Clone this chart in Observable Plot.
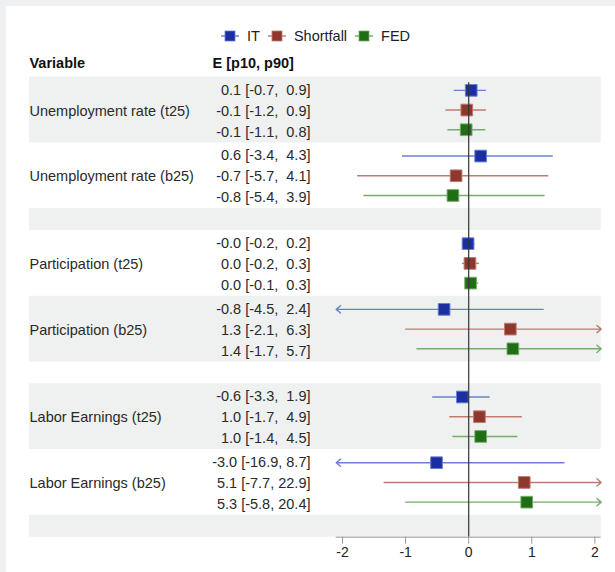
<!DOCTYPE html>
<html>
<head>
<meta charset="utf-8">
<script src="https://cdn.jsdelivr.net/npm/d3@7"></script>
<script src="https://cdn.jsdelivr.net/npm/@observablehq/plot@0.6"></script>
<style>
  body { margin: 0; background: #eff0f2; font-family: "Liberation Sans", Arial, sans-serif; }
  #panel { position: absolute; left: 6px; top: 6px; width: 609px; height: 566px; background: #fff; }
  #legend { height: 36px; padding-top: 12px; display: flex; align-items: center; padding-left: 215px; font-size: 14.5px; color: #222; }
  #legend .item { display: flex; align-items: center; }
  #legend .item span { margin-left: 8px; margin-right: 8px; }
  svg text { white-space: pre; }
</style>
</head>
<body>
<div id="panel">
  <div id="legend"></div>
  <div id="chart"></div>
</div>
<script>
// ---- data ----
const variables = [
  "Unemployment rate (t25)", "Unemployment rate (b25)",
  "Participation (t25)", "Participation (b25)",
  "Labor Earnings (t25)", "Labor Earnings (b25)"
];
const seriesNames = ["IT", "Shortfall", "FED"];
const fillColors = ["#1b2ea2", "#8e372d", "#1f6e14"];
const lineColors = ["#6b7fd4", "#bf7b71", "#76ad6a"];

// plotted (standardized) estimates
const estIT        = [0.04, 0.19, -0.01, -0.39, -0.10, -0.51];
const p10IT        = [-0.23, -1.05, -0.10, -2.20, -0.57, -2.96];
const p90IT        = [0.28, 1.34, 0.10, 1.18, 0.34, 1.51];
const estShortfall = [-0.03, -0.20, 0.02, 0.66, 0.17, 0.88];
const p10Shortfall = [-0.36, -1.76, -0.10, -1.00, -0.30, -1.34];
const p90Shortfall = [0.28, 1.27, 0.17, 3.09, 0.85, 4.02];
const estFED       = [-0.04, -0.25, 0.03, 0.70, 0.19, 0.92];
const p10FED       = [-0.33, -1.66, -0.05, -0.82, -0.25, -1.00];
const p90FED       = [0.27, 1.21, 0.16, 2.79, 0.78, 3.58];

// table text
const labelsIT = ["0.1 [-0.7,  0.9]", "0.6 [-3.4,  4.3]", "-0.0 [-0.2,  0.2]", "-0.8 [-4.5,  2.4]", "-0.6 [-3.3,  1.9]", "-3.0 [-16.9, 8.7]"];
const labelsShortfall = ["-0.1 [-1.2,  0.9]", "-0.7 [-5.7,  4.1]", "0.0 [-0.2,  0.3]", "1.3 [-2.1,  6.3]", "1.0 [-1.7,  4.9]", "5.1 [-7.7, 22.9]"];
const labelsFED = ["-0.1 [-1.1,  0.8]", "-0.8 [-5.4,  3.9]", "0.0 [-0.1,  0.3]", "1.4 [-1.7,  5.7]", "1.0 [-1.4,  4.5]", "5.3 [-5.8, 20.4]"];
const headers = ["Variable", "E [p10, p90]"];
const xTicks = [-2, -1, 0, 1, 2];
const xDomain = [-2.1, 2.1];

// ---- build tables ----
const est = [estIT, estShortfall, estFED];
const p10 = [p10IT, p10Shortfall, p10FED];
const p90 = [p90IT, p90Shortfall, p90FED];
const labels = [labelsIT, labelsShortfall, labelsFED];

const groupCenter = i => 1.5 + 3 * i + Math.floor(i / 2);
const nSlots = 21;
const groups = variables.map((name, i) => ({name, y: groupCenter(i)}));

// alternating bands: each group, plus an empty spacer slot after every pair
const blocks = [];
variables.forEach((v, i) => {
  const c = groupCenter(i);
  blocks.push({y1: c - 1.5, y2: c + 1.5});
  if (i % 2 === 1) blocks.push({y1: c + 1.5, y2: c + 2.5});
});
const bands = blocks.filter((b, i) => i % 2 === 0);

const rows = [];
seriesNames.forEach((s, si) => {
  variables.forEach((v, i) => {
    const c = groupCenter(i);
    rows.push({
      series: si, est: est[si][i], lo: p10[si][i], hi: p90[si][i],
      label: labels[si][i], y: c + (si - 1) * 0.9, ty: c + (si - 1) * 0.96
    });
  });
});

// ---- legend ----
const legend = document.getElementById("legend");
seriesNames.forEach((s, si) => {
  const item = document.createElement("div");
  item.className = "item";
  item.innerHTML = `<svg width="18" height="12"><line x1="0" x2="18" y1="6" y2="6" stroke="${lineColors[si]}" stroke-width="1.4"/><rect x="4" y="1" width="10" height="10" fill="${fillColors[si]}" stroke="${lineColors[si]}" stroke-width="0.8"/></svg><span>${s}</span>`;
  legend.appendChild(item);
});

// ---- chart ----
const marks = [
  Plot.rect(bands, {y1: "y1", y2: "y2", fill: "#eef1f0"}),
  Plot.text([{t: headers[0], y: -0.61}], {y: "y", text: "t", frameAnchor: "left", textAnchor: "start", dx: 0, fontWeight: "bold", fill: "#111"}),
  Plot.text([{t: headers[1], y: -0.61}], {y: "y", text: "t", frameAnchor: "left", textAnchor: "start", dx: 183, fontWeight: "bold", fill: "#111"}),
  Plot.text(groups, {y: "y", text: "name", frameAnchor: "left", textAnchor: "start", dx: 0, dy: 1, fill: "#2a2a2a"}),
  Plot.text(rows, {y: "ty", text: "label", frameAnchor: "left", textAnchor: "end", dx: 281, dy: 1, fill: "#2a2a2a"})
];

seriesNames.forEach((s, si) => {
  const r = rows.filter(d => d.series === si);
  const inside = r.filter(d => d.lo >= xDomain[0] && d.hi <= xDomain[1]);
  const right = r.filter(d => d.hi > xDomain[1]);
  const left = r.filter(d => d.lo < xDomain[0]);
  marks.push(
    Plot.ruleY(inside, {y: "y", x1: "lo", x2: "hi", stroke: lineColors[si], strokeWidth: 1.4}),
    Plot.arrow(right, {x1: "lo", x2: () => xDomain[1], y1: "y", y2: "y", stroke: lineColors[si], strokeWidth: 1.4, headLength: 6, headAngle: 80}),
    Plot.arrow(left, {x1: "hi", x2: () => xDomain[0], y1: "y", y2: "y", stroke: lineColors[si], strokeWidth: 1.4, headLength: 6, headAngle: 80}),
    Plot.dot(r, {x: "est", y: "y", symbol: "square", r: 6.6, fill: fillColors[si], stroke: lineColors[si], strokeWidth: 1})
  );
});

marks.push(
  Plot.ruleX([0], {y1: 0.25, y2: nSlots, stroke: "#333", strokeWidth: 1.2}),
  Plot.ruleY([nSlots], {x1: xDomain[0], x2: xDomain[1], stroke: "#999"}),
  Plot.axisX({ticks: xTicks, tickFormat: d => String(d), tickSize: 7, tickPadding: 3, stroke: "#999", fill: "#222", label: null, fontSize: 14})
);

const chart = Plot.plot({
  width: 609,
  height: 518,
  marginTop: 22.7,
  marginBottom: 35.3,
  marginLeft: 23,
  marginRight: 14.3,
  style: {fontFamily: '"Liberation Sans", Arial, sans-serif', fontSize: "14.5px", background: "transparent", overflow: "visible"},
  x: {domain: xDomain, range: [329.7, 594.7]},
  y: {domain: [0, nSlots], range: [22.7, 482.7], axis: null},
  marks
});
document.getElementById("chart").appendChild(chart);
</script>
</body>
</html>
